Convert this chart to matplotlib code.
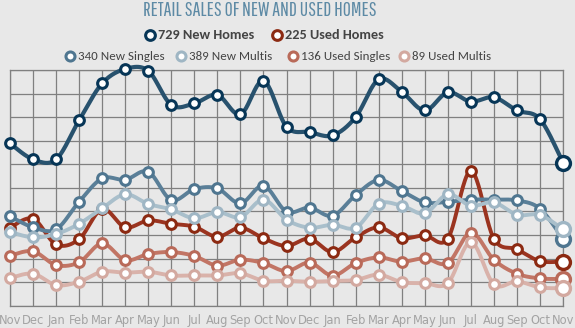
import numpy as np
import matplotlib.pyplot as plt
from matplotlib.lines import Line2D

months = ['Nov', 'Dec', 'Jan', 'Feb', 'Mar', 'Apr', 'May', 'Jun', 'Jul', 'Aug', 'Sep', 'Oct',
          'Nov', 'Dec', 'Jan', 'Feb', 'Mar', 'Apr', 'May', 'Jun', 'Jul', 'Aug', 'Sep', 'Oct', 'Nov']

new_homes = [826, 745, 745, 944, 1132, 1205, 1196, 1022, 1030, 1073, 974, 1145,
             911, 884, 867, 960, 1152, 1089, 994, 1086, 1039, 1061, 994, 950, 729]
used_homes = [397, 443, 312, 339, 492, 399, 434, 417, 402, 351, 397, 343,
              304, 341, 273, 348, 399, 344, 358, 341, 686, 341, 287, 227, 225]
new_singles = [455, 399, 389, 529, 648, 641, 682, 538, 594, 597, 521, 611,
               479, 499, 458, 563, 640, 584, 526, 529, 540, 540, 536, 494, 340]
new_multis = [375, 348, 365, 417, 496, 567, 518, 490, 445, 477, 451, 540,
              438, 397, 412, 397, 519, 509, 470, 567, 509, 526, 463, 462, 389]
used_singles = [255, 277, 207, 221, 317, 232, 263, 273, 253, 204, 234, 217,
                176, 219, 153, 217, 246, 224, 241, 217, 372, 234, 163, 139, 136]
used_multis = [141, 163, 105, 122, 173, 168, 173, 154, 154, 154, 165, 127,
               127, 122, 126, 131, 158, 120, 115, 115, 324, 109, 124, 93, 89]

names = ['New Homes', 'Used Homes', 'New Singles', 'New Multis', 'Used Singles', 'Used Multis']
line_colors = ['#28526e', '#9b3420', '#5a7f98', '#a9bfcb', '#c27565', '#d9b2aa']
mark_colors = ['#073657', '#8c2a12', '#4f7690', '#9fb6c4', '#b96a59', '#d3a9a0']


def smooth(x, y, n=24):
    # catmull-rom curve through the points, just for drawing
    pts = np.column_stack([x, y]).astype(float)
    p = np.vstack([pts[0], pts, pts[-1]])
    out = []
    t = np.linspace(0, 1, n, endpoint=False)[:, None]
    for i in range(1, len(p) - 2):
        p0, p1, p2, p3 = p[i - 1], p[i], p[i + 1], p[i + 2]
        seg = 0.5 * (2 * p1 + (-p0 + p2) * t + (2 * p0 - 5 * p1 + 4 * p2 - p3) * t ** 2
                     + (-p0 + 3 * p1 - 3 * p2 + p3) * t ** 3)
        out.append(seg)
    out.append(pts[-1:])
    s = np.vstack(out)
    return s[:, 0], s[:, 1]


bg = '#e8e8e8'
fig = plt.figure(figsize=(5.75, 3.28), dpi=100, facecolor=bg)
W, H = 575, 328
ax = fig.add_axes([10 / W, (H - 305.7) / H, 553 / W, 235.7 / H])
ax.set_facecolor(bg)

x = np.arange(len(months))
series = [new_homes, used_homes, new_singles, new_multis, used_singles, used_multis]
widths = [3.0, 2.8, 2.8, 2.8, 2.8, 2.8]
for i, vals in enumerate(series):
    sx, sy = smooth(x, vals)
    ax.plot(sx, sy, color=line_colors[i], lw=widths[i], zorder=3 + i, solid_capstyle='round',
            clip_on=False)
    ax.plot(x[:-1], vals[:-1], 'o', ms=7.0, mfc='white', mec=mark_colors[i], mew=2.2,
            zorder=3 + i, clip_on=False)
    ax.plot(x[-1:], vals[-1:], 'o', ms=10.0, mfc='white', mec=mark_colors[i], mew=2.4,
            zorder=3 + i, clip_on=False)

ax.set_xlim(0, 24)
ax.set_ylim(0, 1200)
ax.set_xticks(x)
ax.set_xticklabels(months, fontsize=8.3, color='#a3a3a3', family='DejaVu Sans')
ax.set_yticks(np.arange(0, 1201, 120))
ax.set_yticklabels([])
ax.tick_params(length=0, pad=6)
ax.grid(True, color='#808080', lw=0.9)
for s in ax.spines.values():
    s.set_color('#808080')
    s.set_linewidth(0.9)

# title
fig.text(260 / W, 1 - 11 / H, 'RETAIL SALES OF NEW AND USED HOMES', ha='center', va='center',
         fontsize=14.2, color='#5d8aa5',
         family=['Pathway Gothic One', 'Oswald', 'Roboto Condensed', 'DejaVu Sans'])

# legend rows
def legend_item(xm, y, color, label, bold, size, ms):
    fig.add_artist(Line2D([xm / W], [1 - y / H], marker='o', ms=ms, mfc='white', mec=color,
                          mew=2.2, transform=fig.transFigure))
    fig.text((xm + 8) / W, 1 - y / H, label, ha='left', va='center', fontsize=size,
             color='#444444', family=['Carlito', 'Lato', 'DejaVu Sans'],
             fontweight='bold' if bold else 'normal')

legend_item(150, 35, mark_colors[0], '729 New Homes', True, 10.3, 7)
legend_item(277, 35, mark_colors[1], '225 Used Homes', True, 10.3, 7)
legend_item(70, 56, mark_colors[2], '340 New Singles', False, 9.4, 6.5)
legend_item(181, 56, mark_colors[3], '389 New Multis', False, 9.4, 6.5)
legend_item(293, 56, mark_colors[4], '136 Used Singles', False, 9.4, 6.5)
legend_item(404, 56, mark_colors[5], '89 Used Multis', False, 9.4, 6.5)

fig.savefig('out.png', dpi=100, facecolor=bg)
